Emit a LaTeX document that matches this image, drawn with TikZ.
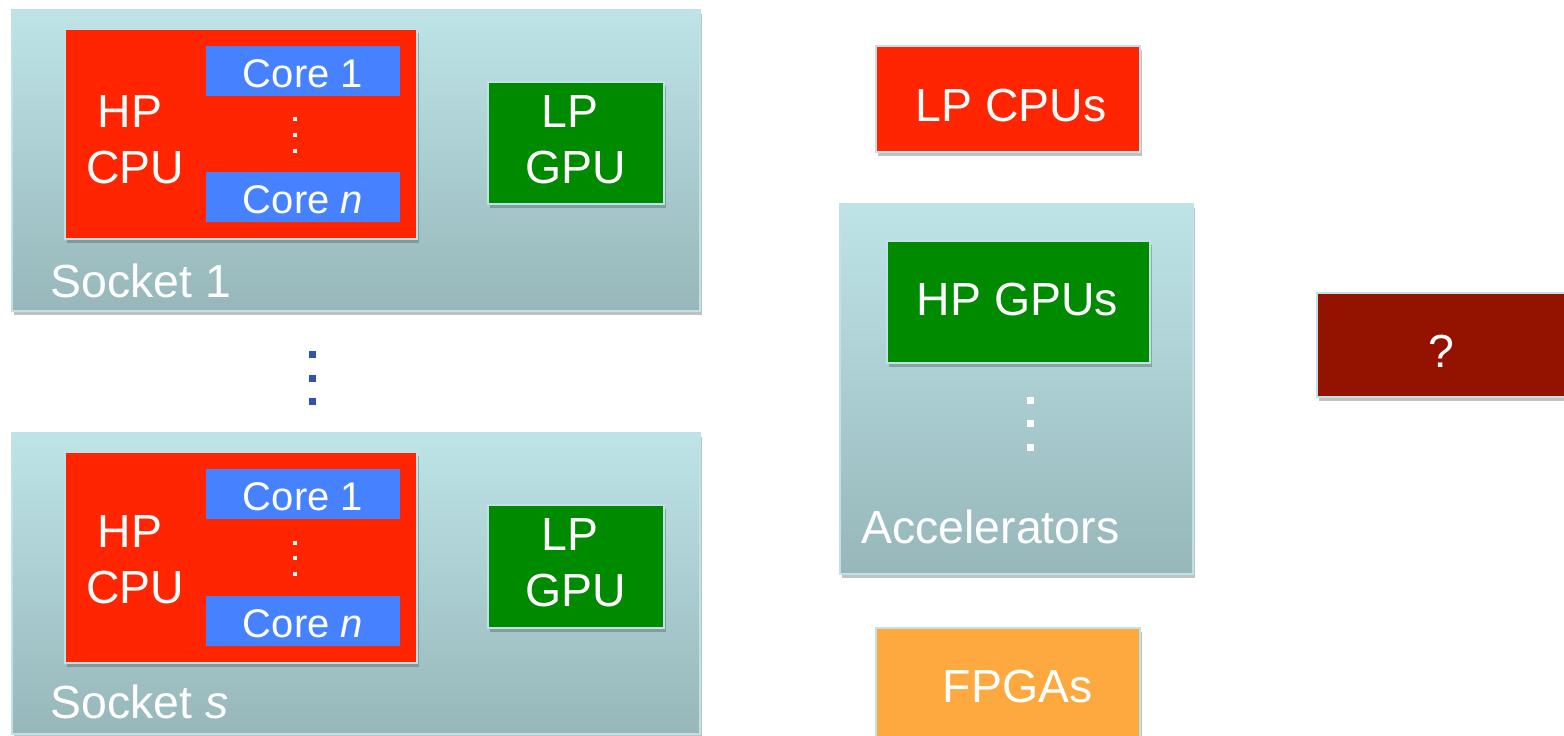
\documentclass[tikz,border=0pt]{standalone}
\usepackage{fontspec}
\setmainfont{Liberation Sans}
\usetikzlibrary{shadows}
\definecolor{socktop}{HTML}{BEE4E8}
\definecolor{sockbot}{HTML}{97B7BA}
\definecolor{bordc}{HTML}{BDE2E7}
\definecolor{cpured}{HTML}{FF2500}
\definecolor{coreblue}{HTML}{4682FF}
\definecolor{gpugreen}{HTML}{008A00}
\definecolor{qred}{HTML}{941200}
\definecolor{fpgaor}{HTML}{FDA93F}
\definecolor{dotblue}{HTML}{3050B8}
\tikzset{
  shad/.style={drop shadow={shadow xshift=0.8pt, shadow yshift=-2pt, opacity=0.35, fill=black!70}},
  box/.style={shape=rectangle, inner sep=0pt, outer sep=0pt, draw=bordc, line width=0.8pt, shad},
  sock/.style={box, top color=socktop, bottom color=sockbot},
  cpubox/.style={box, fill=cpured},
  corebox/.style={shape=rectangle, inner sep=0pt, outer sep=0pt, fill=coreblue},
  gpubox/.style={box, fill=gpugreen},
  big/.style={text=white, inner sep=0pt, anchor=base, font=\fontsize{23.2}{27}\selectfont},
  small/.style={text=white, inner sep=0pt, anchor=base, font=\fontsize{20}{24}\selectfont},
}
\begin{document}
\begin{tikzpicture}[x=0.5pt, y=-0.5pt]
\useasboundingbox (0,0) rectangle (1564,735);
% Socket 1
\node[sock, minimum width=344pt, minimum height=150.5pt] (s1) at (356,160.5) {};
\node[cpubox, minimum width=176pt, minimum height=105pt] (cpu1) at (241,134) {};
\node[corebox, minimum width=97pt, minimum height=25pt] (c11) at (303,71) {};
\node[corebox, minimum width=97pt, minimum height=25pt] (c1n) at (303,197) {};
\node[small] (t11) at (303,87) {Core 1};
\node[small] (t1n) at (303,213) {Core \textit{n}};
\fill[white] (292.75,116.75) rectangle (297.25,121.25);
\fill[white] (292.75,132.75) rectangle (297.25,137.25);
\fill[white] (292.75,148.75) rectangle (297.25,153.25);
\node[big] (hp1) at (130,127) {HP};
\node[big] (cp1) at (135,183) {CPU};
\node[gpubox, minimum width=88pt, minimum height=61pt] (g1) at (576,143) {};
\node[big] (lp1) at (570,127) {LP};
\node[big] (gp1) at (576,183) {GPU};
\node[big, anchor=base west] (sl1) at (50,297) {Socket 1};
% dots between sockets
\fill[dotblue] (308.5,350.5) rectangle (315.5,357.5);
\fill[dotblue] (308.5,374.5) rectangle (315.5,381.5);
\fill[dotblue] (308.5,397.5) rectangle (315.5,404.5);
% Socket s
\node[sock, minimum width=344pt, minimum height=150.5pt] (s2) at (356,583.5) {};
\node[cpubox, minimum width=176pt, minimum height=105.5pt] (cpu2) at (241,557.5) {};
\node[corebox, minimum width=97pt, minimum height=25pt] (c21) at (303,494) {};
\node[corebox, minimum width=97pt, minimum height=25pt] (c2n) at (303,621) {};
\node[small] (t21) at (303,510) {Core 1};
\node[small] (t2n) at (303,637) {Core \textit{n}};
\fill[white] (292.75,540.75) rectangle (297.25,545.25);
\fill[white] (292.75,555.75) rectangle (297.25,560.25);
\fill[white] (292.75,571.75) rectangle (297.25,576.25);
\node[big] (hp2) at (130,547) {HP};
\node[big] (cp2) at (135,603) {CPU};
\node[gpubox, minimum width=88pt, minimum height=61.5pt] (g2) at (576,566.5) {};
\node[big] (lp2) at (570,550) {LP};
\node[big] (gp2) at (576,606) {GPU};
\node[big, anchor=base west] (sl2) at (50,718) {Socket \textit{s}};
% LP CPUs
\node[cpubox, minimum width=132pt, minimum height=53pt] (lpc) at (1008,99) {};
\node[big] (lpct) at (1011,121) {LP CPUs};
% Accelerators
\node[sock, minimum width=176.5pt, minimum height=185pt] (acc) at (1016.5,389) {};
\node[gpubox, minimum width=131.5pt, minimum height=61pt] (hpg) at (1018.5,302) {};
\node[big] (hpgt) at (1017.5,315) {HP GPUs};
\fill[white] (1027,396.5) rectangle (1034,403.5);
\fill[white] (1027,419.5) rectangle (1034,426.5);
\fill[white] (1027,443.5) rectangle (1034,450.5);
\node[big, anchor=base west] (acct) at (861,543) {Accelerators};
% ?
\node[box, fill=qred, minimum width=131.5pt, minimum height=52pt] (q) at (1448.5,345) {};
\node[big] (qt) at (1441,367) {?};
% FPGAs
\node[box, fill=fpgaor, minimum width=132pt, minimum height=66pt] (fp) at (1008,694) {};
\node[big] (fpt) at (1017.5,702) {FPGAs};
\end{tikzpicture}
\end{document}
